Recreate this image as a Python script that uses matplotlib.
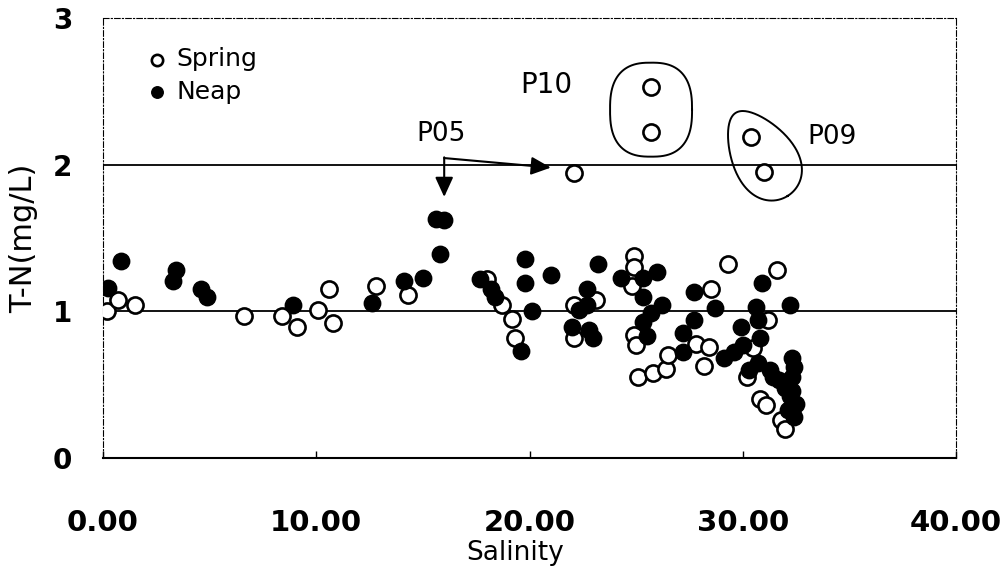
import numpy as np
import matplotlib
matplotlib.use("Agg")
import matplotlib.pyplot as plt

# T-N vs salinity, spring and neap tide samples
spring_x = [0.2, 0.7, 1.5, 6.6, 8.4, 9.1, 10.1, 10.6, 10.8, 12.8, 14.3, 18.0, 18.7, 19.2, 19.3,
            22.1, 22.1, 22.1, 23.1, 24.9, 24.9, 24.8, 24.9, 25.0, 25.1, 25.8, 26.4, 26.5,
            25.7, 25.7, 27.8, 28.2, 28.4, 28.5, 29.3, 30.5, 30.2, 30.8, 31.1, 31.2, 31.6,
            31.8, 32.0, 30.4, 31.0]
spring_y = [1.00, 1.08, 1.04, 0.97, 0.97, 0.89, 1.01, 1.15, 0.92, 1.17, 1.11, 1.22, 1.04, 0.95, 0.82,
            1.94, 1.04, 0.82, 1.08, 1.38, 1.30, 1.17, 0.84, 0.77, 0.55, 0.58, 0.61, 0.70,
            2.53, 2.22, 0.78, 0.63, 0.76, 1.15, 1.32, 0.75, 0.55, 0.40, 0.36, 0.94, 1.28,
            0.26, 0.20, 2.19, 1.95]

neap_x = [0.24, 0.84, 3.3, 3.4, 4.6, 4.9, 8.9, 12.6, 14.1, 15.0, 15.8, 15.6, 16.0, 17.7, 18.2,
          18.4, 19.6, 19.8, 19.8, 20.1, 21.0, 22.3, 22.0, 22.7, 22.7, 22.8, 23.0, 23.2, 24.3,
          25.3, 26.0, 25.3, 26.2, 25.7, 25.3, 25.5, 27.2, 27.2, 27.7, 27.7, 28.7, 30.9, 30.6,
          32.2, 30.7, 29.9, 30.8, 29.1, 29.6, 30.0, 30.3, 30.7, 31.3, 31.4, 31.7, 32.3, 32.3,
          32.3, 32.5, 32.4, 32.2, 32.1, 32.0, 32.4]
neap_y = [1.16, 1.34, 1.21, 1.28, 1.15, 1.10, 1.04, 1.06, 1.21, 1.23, 1.39, 1.63, 1.62, 1.22, 1.15,
          1.10, 0.73, 1.36, 1.19, 1.00, 1.25, 1.01, 0.89, 1.15, 1.04, 0.87, 0.82, 1.32, 1.23,
          1.23, 1.27, 1.10, 1.04, 0.99, 0.93, 0.83, 0.72, 0.85, 0.94, 1.13, 1.02, 1.19, 1.03,
          1.04, 0.94, 0.89, 0.82, 0.68, 0.72, 0.77, 0.60, 0.65, 0.60, 0.55, 0.53, 0.68, 0.55,
          0.46, 0.37, 0.28, 0.42, 0.33, 0.48, 0.62]

x_ticks = [0, 10, 20, 30, 40]
x_tick_labels = ["0.00", "10.00", "20.00", "30.00", "40.00"]
y_ticks = [0, 1, 2, 3]

# indices of the circled stations (spring samples)
p10_idx = [28, 29]
p09_idx = [43, 44]

W, H = 1003, 573
fig = plt.figure(figsize=(W / 100, H / 100), dpi=100)
left, right, bottom, top = 103 / W, 956 / W, 1 - 458 / H, 1 - 18 / H
ax = fig.add_axes([left, bottom, right - left, top - bottom])
ax.set_xlim(0, 40)
ax.set_ylim(0, 3)

# px per data unit, for drawing the hand-drawn looking outlines
sx = W * (right - left) / 40
sy = H * (top - bottom) / 3

for yy in [1, 2]:
    ax.axhline(yy, color="black", lw=1.3, zorder=1)

ax.scatter(spring_x, spring_y, s=135, facecolor="white", edgecolor="black", linewidth=1.9,
           zorder=3, label="Spring")
ax.scatter(neap_x, neap_y, s=140, facecolor="black", edgecolor="black", linewidth=1.0,
           zorder=4, label="Neap")

# outline around P10
sp_x = np.array(spring_x)
sp_y = np.array(spring_y)
t = np.linspace(0, 2 * np.pi, 200)
cx, cy = sp_x[p10_idx].mean(), sp_y[p10_idx].mean()
a, b, p = 41, 47, 2.6
ex = a * np.sign(np.cos(t)) * np.abs(np.cos(t)) ** (2 / p)
ey = b * np.sign(np.sin(t)) * np.abs(np.sin(t)) ** (2 / p)
ax.plot(cx + ex / sx, cy + ey / sy, color="black", lw=1.4, zorder=2)

# outline around P09
cx, cy = sp_x[p09_idx].mean(), sp_y[p09_idx].mean()
a, b, ang = 49, 31, np.deg2rad(-58)
ex = a * np.cos(t)
ey = b * np.sin(t) * (1 + 0.25 * np.cos(t))
rx = ex * np.cos(ang) - ey * np.sin(ang)
ry = ex * np.sin(ang) + ey * np.cos(ang)
ax.plot(cx + (rx + 4) / sx, cy + (ry + 0) / sy, color="black", lw=1.4, zorder=2)

# P05 arrows
arrow_kw = dict(arrowstyle="-|>,head_length=1.2,head_width=0.55", color="black", lw=1.5,
                shrinkA=0, shrinkB=0)
ax.annotate("", xy=(21.0, 1.98), xytext=(16.0, 2.045), arrowprops=arrow_kw)
ax.annotate("", xy=(16.0, 1.78), xytext=(16.0, 2.05), arrowprops=arrow_kw)

ax.text(20.8, 2.54, "P10", fontsize=20, ha="center", va="center")
ax.text(15.85, 2.21, "P05", fontsize=19, ha="center", va="center")
ax.text(34.2, 2.19, "P09", fontsize=19, ha="center", va="center")

leg = ax.legend(loc="upper left", bbox_to_anchor=(0.025, 0.985), frameon=False,
                fontsize=18, markerscale=0.7, handlelength=0.8, handletextpad=0.4,
                labelspacing=0.35)

for side in ["left", "top", "right"]:
    ax.spines[side].set_linestyle((0, (5, 2, 1, 2)))
    ax.spines[side].set_linewidth(0.8)
ax.spines["bottom"].set_linewidth(1.5)

ax.set_xticks(x_ticks)
ax.set_xticklabels(x_tick_labels, fontsize=21, fontweight="bold")
ax.set_yticks(y_ticks)
ax.set_yticklabels([str(v) for v in y_ticks], fontsize=20, fontweight="bold")
ax.tick_params(axis="x", direction="in", length=5, width=1, pad=37)
ax.tick_params(axis="y", length=0, pad=22)

fig.text(515 / W, 1 - 553 / H, "Salinity", fontsize=19, ha="center", va="center")
fig.text(24 / W, 1 - 238 / H, "T-N(mg/L)", fontsize=22, ha="center", va="center",
         rotation=90)

fig.savefig("out.png", dpi=100)
